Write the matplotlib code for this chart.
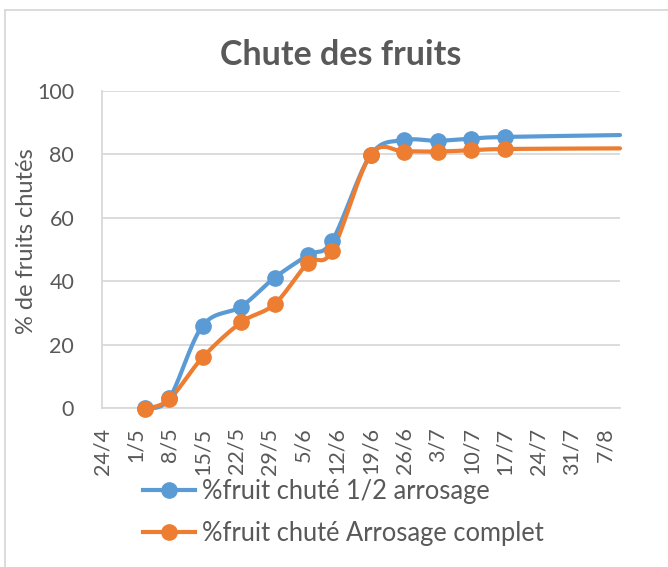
import numpy as np
import matplotlib
matplotlib.use("Agg")
import matplotlib.pyplot as plt
import matplotlib.dates as mdates
from datetime import datetime

plt.rcParams['font.family'] = ['Lato', 'DejaVu Sans']

# ---- data ----
dates = ["2019-05-03", "2019-05-08", "2019-05-15", "2019-05-23", "2019-05-30",
         "2019-06-06", "2019-06-11", "2019-06-19", "2019-06-26", "2019-07-03",
         "2019-07-10", "2019-07-17", "2019-08-10"]
half_watering = [0, 3, 26, 32, 41.1, 48.3, 52.8, 79.8, 84.5, 84.3, 85.0, 85.5, 86.1]
full_watering = [-0.2, 2.7, 16, 27, 32.8, 45.8, 49.6, 79.8, 80.9, 80.9, 81.3, 81.7, 81.9]
marker_count = 12  # last point has no marker
series_names = ["%fruit chuté 1/2 arrosage", "%fruit chuté Arrosage complet"]
title = "Chute des fruits"
ylabel = "% de fruits chutés"
x_start = "2019-04-24"
x_end = "2019-08-10"
yticks = [0, 20, 40, 60, 80, 100]

colors = ["#5B9BD5", "#ED7D31"]
text_color = "#595959"
grid_color = "#D9D9D9"

W, H = 668, 567
fig = plt.figure(figsize=(W / 100, H / 100), dpi=100)

# axes placement in pixels
L, R, T, B = 102, 620, 91, 408
ax = fig.add_axes([L / W, 1 - B / H, (R - L) / W, (B - T) / H])

xd = mdates.date2num([datetime.strptime(d, "%Y-%m-%d") for d in dates])
x0 = mdates.date2num(datetime.strptime(x_start, "%Y-%m-%d"))
x1 = mdates.date2num(datetime.strptime(x_end, "%Y-%m-%d"))


def excel_smooth(x, y, n=30):
    x = np.asarray(x, float)
    y = np.asarray(y, float)
    px = np.concatenate([[x[0]], x, [x[-1]]])
    py = np.concatenate([[y[0]], y, [y[-1]]])
    xs, ys = [], []
    t = np.linspace(0, 1, n)
    for i in range(1, len(px) - 2):
        p0x, p0y = px[i], py[i]
        p3x, p3y = px[i + 1], py[i + 1]
        c1x = p0x + (px[i + 1] - px[i - 1]) / 6
        c1y = p0y + (py[i + 1] - py[i - 1]) / 6
        c2x = p3x - (px[i + 2] - px[i]) / 6
        c2y = p3y - (py[i + 2] - py[i]) / 6
        bx = (1 - t) ** 3 * p0x + 3 * (1 - t) ** 2 * t * c1x + 3 * (1 - t) * t ** 2 * c2x + t ** 3 * p3x
        by = (1 - t) ** 3 * p0y + 3 * (1 - t) ** 2 * t * c1y + 3 * (1 - t) * t ** 2 * c2y + t ** 3 * p3y
        xs.append(bx)
        ys.append(by)
    return np.concatenate(xs), np.concatenate(ys)


for vals, col, name in zip([half_watering, full_watering], colors, series_names):
    sx, sy = excel_smooth(xd, vals)
    ax.plot(sx, sy, color=col, lw=3.0, solid_capstyle='round', zorder=3, clip_on=False)
    ax.plot(xd[:marker_count], vals[:marker_count], 'o', color=col, ms=11, zorder=4,
            clip_on=False)
    ax.plot([], [], '-o', color=col, lw=3.0, ms=11, label=name)

ax.set_xlim(x0, x1)
ax.set_ylim(0, 100)
ax.set_yticks(yticks)
ticks = [x0 + 7 * k for k in range(16)]
ax.set_xticks(ticks)
ax.xaxis.set_major_formatter(mdates.DateFormatter('%-d/%-m'))
for lab in ax.get_xticklabels():
    lab.set_rotation(90)
ax.tick_params(axis='both', length=0, colors=text_color, labelsize=15.5)
ax.tick_params(axis='y', pad=20)
ax.tick_params(axis='x', pad=14)
ax.grid(axis='y', color=grid_color, lw=1.3)
ax.set_axisbelow(True)
for s in ['top', 'right']:
    ax.spines[s].set_visible(False)
for s in ['left', 'bottom']:
    ax.spines[s].set_color(grid_color)
    ax.spines[s].set_linewidth(1.3)
ax.patch.set_alpha(0)
for lab in ax.get_xticklabels() + ax.get_yticklabels():
    lab.set_color(text_color)

fig.text(27 / W, 1 - 241 / H, ylabel, rotation=90, ha='center', va='center',
         fontsize=17, color=text_color)
fig.text(341 / W, 1 - 55 / H, title, ha='center', va='center',
         fontsize=24.5, fontweight='bold', color=text_color)

# chart border
fig.add_artist(plt.Line2D([5 / W, 5 / W], [0, 1 - 10 / H], color=grid_color, lw=1.3,
                          transform=fig.transFigure))
fig.add_artist(plt.Line2D([5 / W, 1], [1 - 10 / H, 1 - 10 / H], color=grid_color, lw=1.3,
                          transform=fig.transFigure))

leg = fig.legend(loc='upper left', bbox_to_anchor=(143 / W, 1 - 479 / H), frameon=False,
                 fontsize=18.4, handlelength=2.03, handletextpad=0.27, labelspacing=0.65,
                 borderpad=0, borderaxespad=0)
for t in leg.get_texts():
    t.set_color(text_color)

fig.savefig("out.png", dpi=100)
